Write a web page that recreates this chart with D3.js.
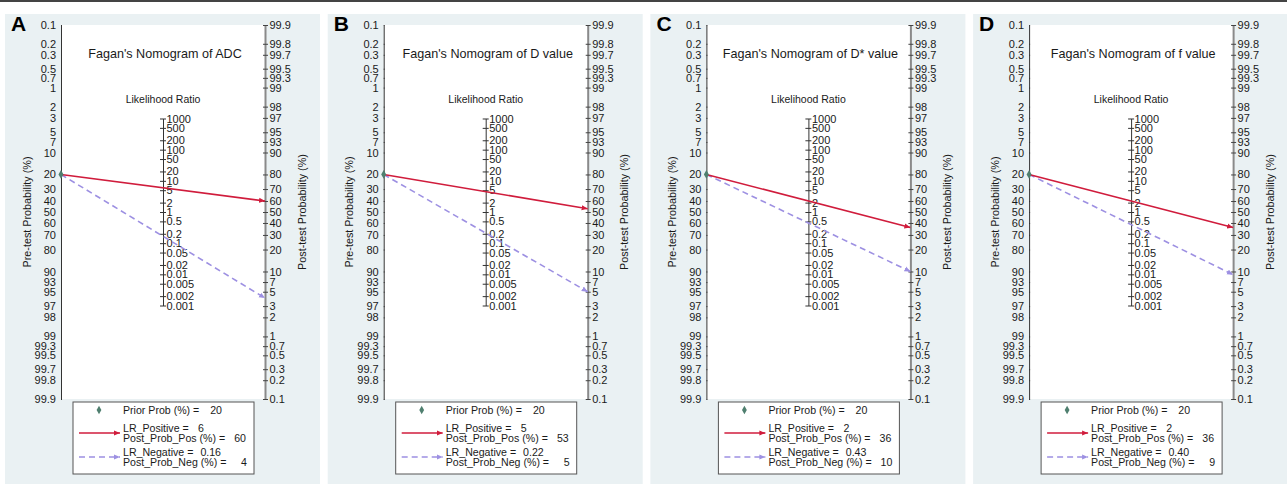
<!DOCTYPE html>
<html>
<head>
<meta charset="utf-8">
<script src="https://cdn.jsdelivr.net/npm/d3@7"></script>
<style>
  body { margin: 0; background: #fff; }
  text { font-family: Arial, "Liberation Sans", sans-serif; fill: #1a1a1a; }
</style>
</head>
<body>
<svg id="chart" width="1287" height="484"></svg>
<script>
// values
const panelLetters = ["A", "B", "C", "D"];
const titles = [
  "Fagan's Nomogram of ADC",
  "Fagan's Nomogram of D value",
  "Fagan's Nomogram of D* value",
  "Fagan's Nomogram of f value"
];
const priorProb = [20, 20, 20, 20];
const lrPositive = ["6", "5", "2", "2"];
const postProbPos = [60, 53, 36, 36];
const lrNegative = ["0.16", "0.22", "0.43", "0.40"];
const postProbNeg = [4, 5, 10, 9];

const preTicks = [0.1, 0.2, 0.3, 0.5, 0.7, 1, 2, 3, 5, 7, 10, 20, 30, 40, 50, 60, 70, 80,
  90, 93, 95, 97, 98, 99, 99.3, 99.5, 99.7, 99.8, 99.9];
const postTicks = [99.9, 99.8, 99.7, 99.5, 99.3, 99, 98, 97, 95, 93, 90, 80, 70, 60, 50, 40,
  30, 20, 10, 7, 5, 3, 2, 1, 0.7, 0.5, 0.3, 0.2, 0.1];
const lrTicks = [1000, 500, 200, 100, 50, 20, 10, 5, 2, 1, 0.5, 0.2, 0.1, 0.05, 0.02, 0.01,
  0.005, 0.002, 0.001];

const svg = d3.select("#chart");
const posColor = "#d01c3c";
const negColor = "#9d90e2";
const markColor = "#4f7f6f";

const logit = (p) => Math.log(p / (1 - p));
const yTop = 25, yBot = 399;
const logitY = d3.scaleLinear()
  .domain([logit(0.001), logit(0.999)])
  .range([yTop, yBot]);

// probability scale on a logit axis, usable by d3.axis
const probScale = (flip) => {
  const s = (p) => logitY((flip ? -1 : 1) * logit(p / 100));
  s.copy = () => s;
  s.domain = () => (flip ? [99.9, 0.1] : [0.1, 99.9]);
  s.range = () => [yTop, yBot];
  return s;
};
const preY = probScale(false);
const postY = probScale(true);
const lrY = d3.scaleLog()
  .domain([0.001, 1000])
  .range([logitY(Math.log(1000) / 2), logitY(-Math.log(1000) / 2)]);

svg.append("rect").attr("x", 0).attr("y", 0).attr("width", 1287).attr("height", 2)
  .attr("fill", "#444");

const defs = svg.append("defs");
[["arrowPos", posColor], ["arrowNeg", negColor]].forEach(([id, c]) => {
  defs.append("marker")
    .attr("id", id)
    .attr("viewBox", "0 -3 6 6")
    .attr("refX", 6)
    .attr("refY", 0)
    .attr("markerUnits", "userSpaceOnUse")
    .attr("markerWidth", 6)
    .attr("markerHeight", 6)
    .attr("orient", "auto")
    .append("path")
    .attr("d", "M0,-2.6L6,0L0,2.6Z")
    .attr("fill", c);
});

panelLetters.forEach((letter, i) => {
  const px = 5 + i * 322.7;
  const g = svg.append("g").attr("transform", `translate(${px},0)`);
  const xl = 56, xr = 260, xc = 158;

  g.append("rect").attr("x", 0).attr("y", 14).attr("width", 315).attr("height", 470)
    .attr("fill", "#eaf1f3");
  g.append("rect").attr("x", xl).attr("y", yTop).attr("width", xr - xl).attr("height", yBot - yTop)
    .attr("fill", "#fff");

  g.append("text").attr("x", 6).attr("y", 30.5).text(letter)
    .attr("font-size", 21).attr("font-weight", "bold").style("fill", "#000");

  g.append("text").attr("x", xc + 2).attr("y", 58).attr("text-anchor", "middle")
    .attr("font-size", 12.6).text(titles[i]);
  g.append("text").attr("x", xc).attr("y", 103).attr("text-anchor", "middle")
    .attr("font-size", 10.5).text("Likelihood Ratio");

  // left axis
  const left = g.append("g").attr("transform", `translate(${xl},0)`)
    .call(d3.axisLeft(preY).tickValues(preTicks).tickFormat((d) => d).tickSize(3).tickSizeOuter(0));
  left.select(".domain").attr("stroke", "#333");
  left.selectAll(".tick line").attr("stroke", "#333").attr("x2", 1);
  left.selectAll(".tick text").attr("x", -5).attr("font-size", 11).attr("font-family", null);

  // right axis
  const right = g.append("g").attr("transform", `translate(${xr},0)`)
    .call(d3.axisRight(postY).tickValues(postTicks).tickFormat((d) => d).tickSize(3).tickSizeOuter(0));
  right.select(".domain").attr("stroke", "#8a8a8a").attr("stroke-width", 2);
  right.selectAll(".tick line").attr("stroke", "#444").attr("x1", -2);
  right.selectAll(".tick text").attr("x", 4.5).attr("font-size", 11).attr("font-family", null);

  // likelihood ratio axis
  const mid = g.append("g").attr("transform", `translate(${xc},0)`)
    .call(d3.axisRight(lrY).tickValues(lrTicks).tickFormat((d) => d).tickSize(3).tickSizeOuter(0));
  mid.select(".domain").attr("stroke", "#333");
  mid.selectAll(".tick line").attr("stroke", "#333").attr("x1", -3);
  mid.selectAll(".tick text").attr("x", 3.5).attr("font-size", 11).attr("font-family", null);

  g.append("text")
    .attr("transform", `translate(22,212) rotate(-90)`)
    .attr("text-anchor", "middle").attr("dy", "0.35em").attr("font-size", 10.8)
    .text("Pre-test Probability (%)");
  g.append("text")
    .attr("transform", `translate(297,212) rotate(-90)`)
    .attr("text-anchor", "middle").attr("dy", "0.35em").attr("font-size", 10.8)
    .text("Post-test Probability (%)");

  // nomogram lines
  g.append("line")
    .attr("x1", xl).attr("y1", preY(priorProb[i]))
    .attr("x2", xr).attr("y2", postY(postProbNeg[i]))
    .attr("stroke", negColor).attr("stroke-width", 1.6).attr("stroke-dasharray", "6,4")
    .attr("marker-end", "url(#arrowNeg)");
  g.append("line")
    .attr("x1", xl).attr("y1", preY(priorProb[i]))
    .attr("x2", xr).attr("y2", postY(postProbPos[i]))
    .attr("stroke", posColor).attr("stroke-width", 1.6)
    .attr("marker-end", "url(#arrowPos)");
  g.append("path")
    .attr("d", d3.symbol(d3.symbolDiamond, 22)())
    .attr("transform", `translate(${xl},${preY(priorProb[i])})`)
    .attr("fill", markColor);

  // legend
  const lx = 68, ly = 402;
  const leg = g.append("g").attr("transform", `translate(${lx},${ly})`);
  leg.append("rect").attr("width", 181).attr("height", 72)
    .attr("fill", "#fff").attr("stroke", "#555").attr("stroke-width", 1);
  leg.append("path")
    .attr("d", d3.symbol(d3.symbolDiamond, 20)())
    .attr("transform", "translate(26,8)").attr("fill", markColor);
  leg.append("line").attr("x1", 6).attr("x2", 47).attr("y1", 31).attr("y2", 31)
    .attr("stroke", posColor).attr("stroke-width", 1.6).attr("marker-end", "url(#arrowPos)");
  leg.append("line").attr("x1", 6).attr("x2", 47).attr("y1", 55).attr("y2", 55)
    .attr("stroke", negColor).attr("stroke-width", 1.6).attr("stroke-dasharray", "6,4")
    .attr("marker-end", "url(#arrowNeg)");

  const rows = [
    ["Prior Prob (%) =", priorProb[i], 12, 149],
    ["LR_Positive =", lrPositive[i], 30, 131],
    ["Post_Prob_Pos (%) =", postProbPos[i], 40, 173],
    ["LR_Negative =", lrNegative[i], 54, 148],
    ["Post_Prob_Neg (%) =", postProbNeg[i], 64, 174]
  ];
  rows.forEach(([label, value, y, vx]) => {
    leg.append("text").attr("x", 50).attr("y", y).attr("font-size", 10.6).text(label);
    leg.append("text").attr("x", vx).attr("y", y).attr("font-size", 10.6)
      .attr("text-anchor", "end").text(value);
  });
});
</script>
</body>
</html>
